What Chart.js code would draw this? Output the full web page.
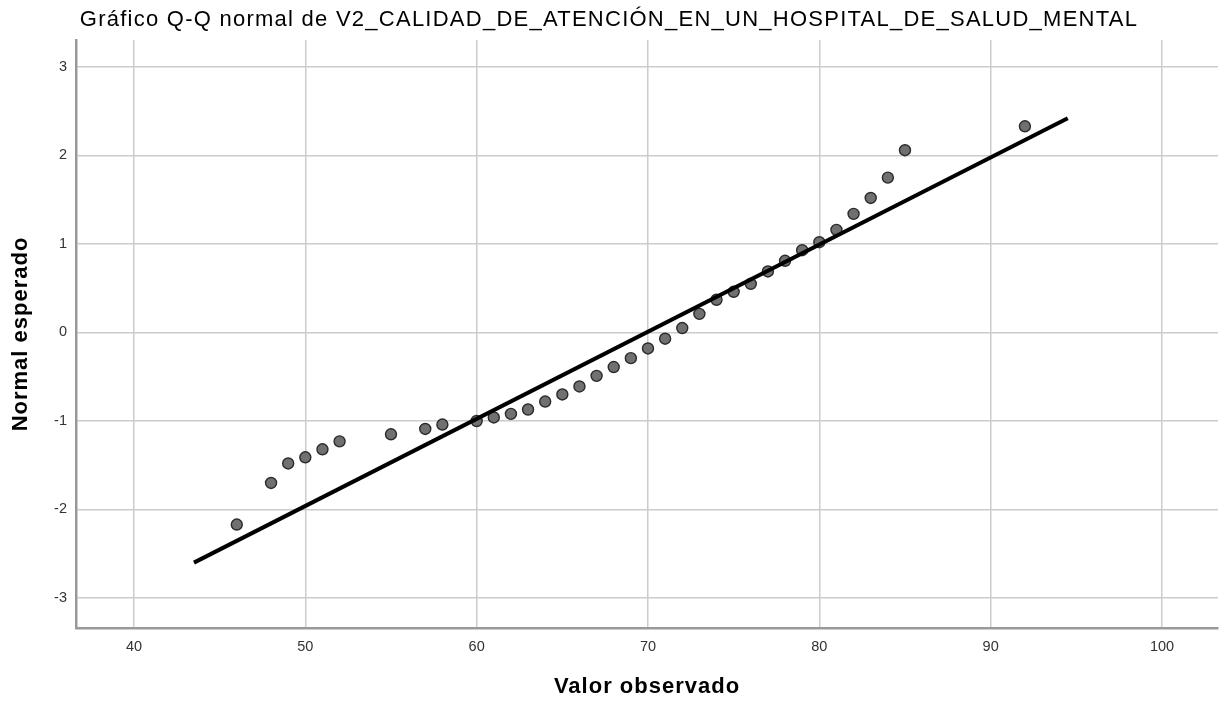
<!DOCTYPE html>
<html>
<head>
<meta charset="utf-8">
<script src="https://cdn.jsdelivr.net/npm/chart.js@4.4.0/dist/chart.umd.min.js"></script>
<style>
  body { margin: 0; background: #fff; }
  canvas { display: block; }
</style>
</head>
<body>
<canvas id="qq" width="1225" height="701"></canvas>
<script>
// ===== datos =====
const observados = [46, 48, 49, 50, 51, 52, 55, 57, 58, 60, 61, 62, 63, 64, 65, 66, 67, 68, 69, 70,
                    71, 72, 73, 74, 75, 76, 77, 78, 79, 80, 81, 82, 83, 84, 85, 92];
const esperados  = [-2.17, -1.70, -1.48, -1.41, -1.32, -1.23, -1.15, -1.09, -1.04, -1.00, -0.96, -0.92,
                    -0.87, -0.78, -0.70, -0.61, -0.49, -0.39, -0.29, -0.18, -0.07, 0.05, 0.21, 0.37,
                    0.46, 0.55, 0.69, 0.81, 0.93, 1.02, 1.16, 1.34, 1.52, 1.75, 2.06, 2.33];
// recta de referencia (extremos)
const rectaX = [43.5, 94.5];
const rectaY = [-2.60, 2.42];

const xTicks = [40, 50, 60, 70, 80, 90, 100];
const yTicks = [-3, -2, -1, 0, 1, 2, 3];

const FONT = "'Liberation Sans', Arial, sans-serif";

// el texto del original va más espaciado que Arial normal
function conEspaciado(proto, name, spacing) {
    if (!proto || !proto[name]) return;
    const orig = proto[name];
    proto[name] = function (...args) {
        const ctx = this.ctx;
        ctx.save();
        ctx.letterSpacing = spacing;
        const r = orig.apply(this, args);
        ctx.restore();
        return r;
    };
}
conEspaciado(Chart.Title && Chart.Title._element && Chart.Title._element.prototype, 'draw', '1.25px');
conEspaciado(Chart.Scale.prototype, 'drawTitle', '1px');

const puntos = observados.map((v, i) => ({ x: v, y: esperados[i] }));
const recta = rectaX.map((v, i) => ({ x: v, y: rectaY[i] }));

new Chart(document.getElementById('qq'), {
    type: 'scatter',
    data: {
        datasets: [
            {
                label: 'recta',
                data: recta,
                showLine: true,
                borderColor: '#000',
                borderWidth: 4,
                pointRadius: 0,
                order: 0
            },
            {
                label: 'observado',
                data: puntos,
                backgroundColor: '#707070',
                borderColor: '#2b2b2b',
                borderWidth: 1.4,
                pointRadius: 5.5,
                order: 1
            }
        ]
    },
    options: {
        responsive: false,
        animation: false,
        devicePixelRatio: 1,
        layout: { padding: { left: 0, right: 7, top: 0, bottom: 0 } },
        plugins: {
            legend: { display: false },
            tooltip: { enabled: false },
            title: {
                display: true,
                text: 'Gráfico Q-Q normal de V2_CALIDAD_DE_ATENCIÓN_EN_UN_HOSPITAL_DE_SALUD_MENTAL',
                color: '#000',
                font: { family: FONT, size: 22, weight: 'normal' },
                padding: { top: 7, bottom: 6.6 }
            }
        },
        scales: {
            x: {
                type: 'linear',
                min: 36.615,
                max: 103.27,
                afterBuildTicks: (s) => { s.ticks = xTicks.map(v => ({ value: v })); },
                afterFit: (s) => { s.height = 73; },
                border: { display: true, color: '#999999', width: 2.5 },
                grid: { color: '#cccccc', lineWidth: 1.5, drawTicks: false },
                ticks: { color: '#333', font: { family: FONT, size: 14.5 }, padding: 10 },
                title: {
                    display: true,
                    text: 'Valor observado',
                    color: '#000',
                    font: { family: FONT, size: 22, weight: 'bold' },
                    padding: { top: 0, bottom: 1 }
                }
            },
            y: {
                type: 'linear',
                min: -3.339,
                max: 3.305,
                afterBuildTicks: (s) => { s.ticks = yTicks.map(v => ({ value: v })); },
                afterFit: (s) => { s.width = 76; },
                border: { display: true, color: '#999999', width: 2.5 },
                grid: { color: '#cccccc', lineWidth: 1.5, drawTicks: false },
                ticks: { color: '#333', font: { family: FONT, size: 14.5 }, padding: 9 },
                title: {
                    display: true,
                    text: 'Normal esperado',
                    color: '#000',
                    font: { family: FONT, size: 22, weight: 'bold' },
                    padding: { top: 8, bottom: 0 }
                }
            }
        }
    }
});
</script>
</body>
</html>
